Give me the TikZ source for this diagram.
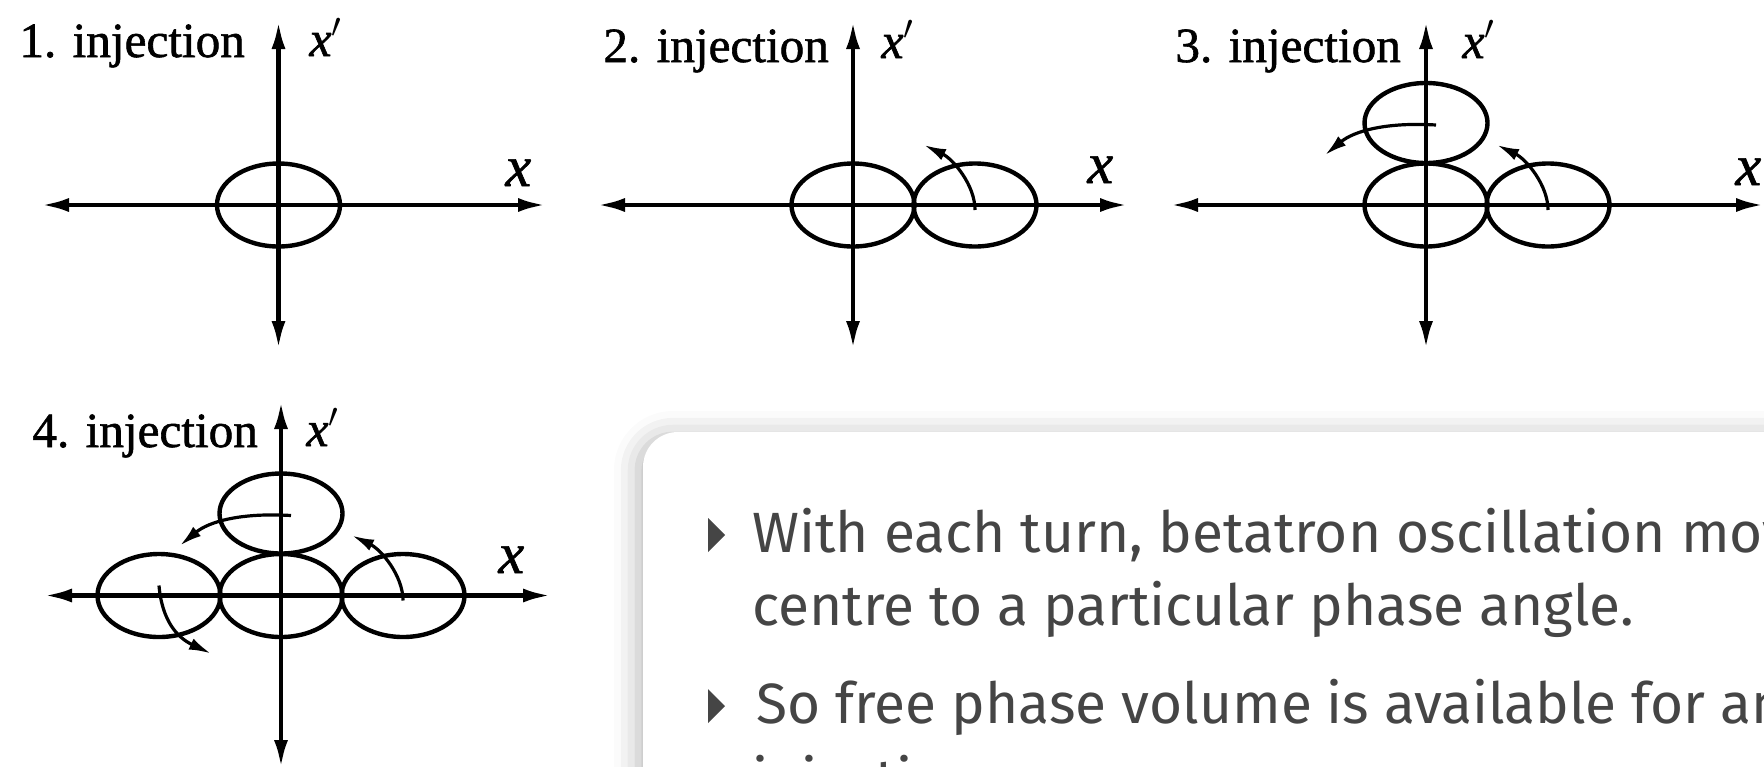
\documentclass[tikz,border=0pt]{standalone}
\usepackage{fontspec}
\setmainfont{Liberation Serif}
\newfontfamily\scanfont[FakeBold=1.2]{Liberation Serif}
\newfontfamily\bodyfont{Fira Sans}
\usetikzlibrary{arrows.meta,shadows.blur,calc}
\definecolor{txtgrey}{HTML}{454545}
\begin{document}
\begin{tikzpicture}[x=0.5pt,y=-0.5pt,
  axisline/.style={line width=2.3pt,{Latex[length=14pt,width=7pt]}-{Latex[length=14pt,width=7pt]}},
  ell/.style={line width=2.2pt},
  rot/.style={line width=1.6pt,-{Latex[length=11pt,width=6pt]}},
  lbl/.style={inner sep=0pt,anchor=base west,font=\scanfont\fontsize{24.6}{30}\selectfont},
  axl/.style={inner sep=0pt,anchor=base west,font=\scanfont\fontsize{29}{32}\selectfont},
  axlp/.style={inner sep=0pt,anchor=base west,font=\scanfont\fontsize{25}{30}\selectfont},
  body/.style={inner sep=0pt,anchor=base west,text=txtgrey,font=\bodyfont\fontsize{28.4}{34}\selectfont},
  bul/.style={fill=txtgrey}
]
\useasboundingbox (0,0) rectangle (1764,766);
\clip (0,0) rectangle (1764,766);

% ---------- panel 1 ----------
\coordinate (o1) at (278.5,205);
\coordinate (l1) at (41,205); \coordinate (r1) at (546,205);
\coordinate (t1) at (278.5,21); \coordinate (b1) at (278.5,349);
\draw[axisline] (l1) -- (r1);
\draw[axisline] (b1) -- (t1);
\draw[ell] (o1) ellipse [x radius=30.75pt, y radius=20.75pt];
\node[lbl] (n1) at (19,57) {1. injection};
\node[axlp] (xp1) at (309,56) {\textit{x}$'$};
\node[axl] (x1) at (505,186) {\textit{x}};

% ---------- panel 2 ----------
\coordinate (o2) at (853,205);
\coordinate (l2) at (597,205); \coordinate (r2) at (1128,205);
\coordinate (t2) at (853,21); \coordinate (b2) at (853,349);
\coordinate (e2r) at (975,205);
\draw[axisline] (l2) -- (r2);
\draw[axisline] (b2) -- (t2);
\draw[ell] (o2) ellipse [x radius=30.75pt, y radius=20.75pt];
\draw[ell] (e2r) ellipse [x radius=30.75pt, y radius=20.75pt];
\draw[rot] ($(e2r)+(0,5)$) .. controls ($(e2r)+(0,-20)$) and ($(e2r)+(-22,-46)$) .. ($(e2r)+(-51,-60)$);
\node[lbl] (n2) at (603,62) {2. injection};
\node[axlp] (xp2) at (881,58) {\textit{x}$'$};
\node[axl] (x2) at (1087,183) {\textit{x}};

% ---------- panel 3 ----------
\coordinate (o3) at (1426,205);
\coordinate (l3) at (1170,205); \coordinate (r3) at (1764,205);
\coordinate (t3) at (1426,21); \coordinate (b3) at (1426,349);
\coordinate (e3r) at (1548,205);
\coordinate (e3t) at (1426,123);
\draw[axisline] (l3) -- (r3);
\draw[axisline] (b3) -- (t3);
\draw[ell] (o3) ellipse [x radius=30.75pt, y radius=20.75pt];
\draw[ell] (e3r) ellipse [x radius=30.75pt, y radius=20.75pt];
\draw[ell] (e3t) ellipse [x radius=30.75pt, y radius=20pt];
\draw[rot] ($(e3r)+(0,5)$) .. controls ($(e3r)+(0,-20)$) and ($(e3r)+(-22,-46)$) .. ($(e3r)+(-51,-60)$);
\draw[rot] ($(e3t)+(10,2)$) .. controls ($(e3t)+(-40,-1)$) and ($(e3t)+(-72,8)$) .. ($(e3t)+(-101,32)$);
\node[lbl] (n3) at (1175,62) {3. injection};
\node[axlp] (xp3) at (1462,58) {\textit{x}$'$};
\node[axl] (x3) at (1735,185) {\textit{x}};

% ---------- panel 4 ----------
\coordinate (o4) at (281,595.5);
\coordinate (l4) at (44,595.5); \coordinate (r4) at (551,595.5);
\coordinate (t4) at (281,401); \coordinate (b4) at (281,768);
\coordinate (e4r) at (403,595.5);
\coordinate (e4l) at (159,595.5);
\coordinate (e4t) at (281,513.5);
\draw[axisline] (l4) -- (r4);
\draw[axisline] (b4) -- (t4);
\draw[ell] (o4) ellipse [x radius=30.75pt, y radius=20.75pt];
\draw[ell] (e4r) ellipse [x radius=30.75pt, y radius=20.75pt];
\draw[ell] (e4l) ellipse [x radius=30.75pt, y radius=20.75pt];
\draw[ell] (e4t) ellipse [x radius=30.75pt, y radius=20pt];
\draw[rot] ($(e4r)+(0,5)$) .. controls ($(e4r)+(0,-20)$) and ($(e4r)+(-22,-46)$) .. ($(e4r)+(-51,-60)$);
\draw[rot] ($(e4t)+(10,2)$) .. controls ($(e4t)+(-40,-1)$) and ($(e4t)+(-72,8)$) .. ($(e4t)+(-101,32)$);
\draw[rot] ($(e4l)+(0,-10)$) .. controls ($(e4l)+(3,25)$) and ($(e4l)+(18,42)$) .. ($(e4l)+(52,58)$);
\node[lbl] (n4) at (32,447) {4. injection};
\node[axlp] (xp4) at (306,446) {\textit{x}$'$};
\node[axl] (x4) at (498,573) {\textit{x}};

% ---------- text box ----------
\fill[white, rounded corners=17.5pt,
  blur shadow={shadow xshift=-2.5pt, shadow yshift=-1.5pt, shadow blur radius=12pt, shadow opacity=28}]
  (643,432) rectangle (1950,980);

\fill[bul] (708,518) -- (725,535) -- (708,552) -- cycle;
\node[body] (s1) at (752,552) {With each turn, betatron oscillation moves};
\node[body] (s2) at (752,625) {centre to a particular phase angle.};
\fill[bul] (708,689) -- (725,706) -- (708,723) -- cycle;
\node[body] (s3) at (756,723) {So free phase volume is available for another};
\node[body] (s4) at (752,799) {injection.};
\end{tikzpicture}
\end{document}
